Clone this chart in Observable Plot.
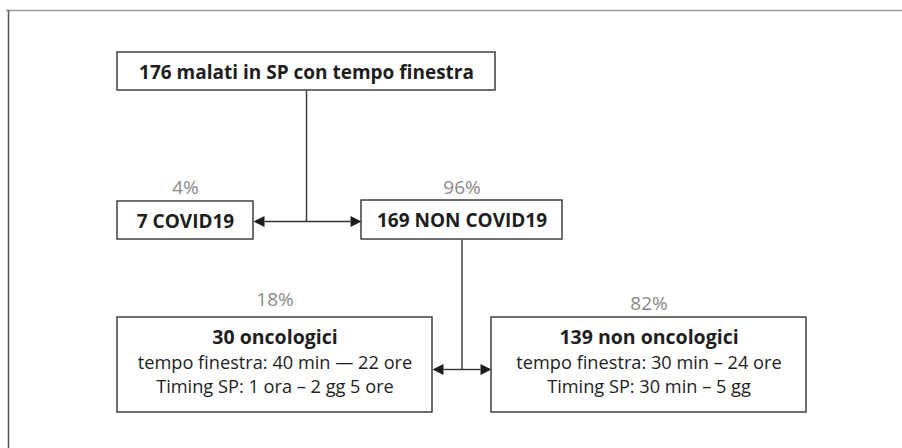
<!DOCTYPE html>
<html><head><meta charset="utf-8">
<script src="https://cdn.jsdelivr.net/npm/d3@7"></script>
<script src="https://cdn.jsdelivr.net/npm/@observablehq/plot@0.6"></script>
<style>
  html,body{margin:0;padding:0;background:#fff}
  #chart svg{display:block}
</style>
</head><body><div id="chart"></div>
<script>
// ---------- DATA ----------
const nodeIds      = ["totale", "covid", "noncovid", "onco", "nononco"];
const nodeCounts   = [176, 7, 169, 30, 139];
const nodeLabels   = ["malati in SP con tempo finestra", "COVID19", "NON COVID19", "oncologici", "non oncologici"];
const nodeParents  = [null, "totale", "totale", "noncovid", "noncovid"];
const percentValues = [null, 4, 96, 18, 82];
const tempoFinestra = [null, null, null, "40 min \u2014 22 ore", "30 min \u2013 24 ore"];
const timingSP      = [null, null, null, "1 ora \u2013 2 gg 5 ore", "30 min \u2013 5 gg"];

// ---------- LAYOUT (picture coordinate system) ----------
const W = 902, H = 448;
const boxLayout = {
  totale:   {x1: 117, x2: 495, y1: 52,  y2: 90},
  covid:    {x1: 117, x2: 253, y1: 201, y2: 239},
  noncovid: {x1: 361, x2: 562, y1: 200, y2: 239},
  onco:     {x1: 117, x2: 432, y1: 317, y2: 412},
  nononco:  {x1: 491, x2: 806, y1: 317, y2: 412}
};
const junctionY = {totale: 221, noncovid: 369};
const pctBaseline = {covid: 193, noncovid: 193, onco: 305, nononco: 309};
const frame = {left: 8, top: 10};
const arrowLen = 11, arrowHalf = 5.5;
const ink = "#1e1e1e", lineInk = "#333", grey = "#8a8a8a";
const font = "'Open Sans', 'Noto Sans', sans-serif";

// ---------- BUILD ----------
const nodes = nodeIds.map((id, i) => {
  const b = boxLayout[id];
  return {
    id, ...b, cx: (b.x1 + b.x2) / 2, cy: (b.y1 + b.y2) / 2,
    title: `${nodeCounts[i]} ${nodeLabels[i]}`,
    parent: nodeParents[i], pct: percentValues[i],
    tf: tempoFinestra[i], ts: timingSP[i]
  };
});

const stems = [], branches = [], heads = [];
for (const p of nodes) {
  const kids = nodes.filter(n => n.parent === p.id);
  if (!kids.length) continue;
  const jy = junctionY[p.id];
  stems.push({x1: p.cx, y1: p.y2, x2: p.cx, y2: jy});
  for (const k of kids) {
    const dir = k.cx < p.cx ? -1 : 1;
    const tip = dir < 0 ? k.x2 : k.x1;
    branches.push({x1: p.cx, y1: jy, x2: tip - dir * arrowLen, y2: jy});
    heads.push({id: k.id, x: tip, y: jy});
    heads.push({id: k.id, x: tip - dir * arrowLen, y: jy - arrowHalf});
    heads.push({id: k.id, x: tip - dir * arrowLen, y: jy + arrowHalf});
  }
}

const simple = nodes.filter(n => !n.tf);
const detail = nodes.filter(n => n.tf);
const pcts = nodes.filter(n => n.pct != null).map(n => ({x: n.cx, y: pctBaseline[n.id], text: `${n.pct}%`}));

const chart = Plot.plot({
  width: W, height: H, margin: 0,
  x: {domain: [0, W], range: [0, W], axis: null},
  y: {domain: [0, H], range: [0, H], axis: null},
  style: {fontFamily: font, background: "#fff"},
  marks: [
    Plot.ruleY([frame.top], {x1: frame.left - 2, x2: W, stroke: "#9a9a9a", strokeWidth: 1.5}),
    Plot.ruleX([frame.left], {y1: frame.top, y2: H, stroke: "#555", strokeWidth: 1.5}),
    Plot.link(stems, {x1: "x1", y1: "y1", x2: "x2", y2: "y2", stroke: lineInk, strokeWidth: 1.4}),
    Plot.link(branches, {x1: "x1", y1: "y1", x2: "x2", y2: "y2", stroke: lineInk, strokeWidth: 1.4}),
    Plot.line(heads, {x: "x", y: "y", z: "id", fill: ink, stroke: "none", curve: "linear-closed"}),
    Plot.rect(nodes, {x1: "x1", x2: "x2", y1: "y1", y2: "y2", fill: "white", stroke: lineInk, strokeWidth: 1.4}),
    Plot.text(simple, {x: "cx", y: n => n.cy + 7, text: "title", fontWeight: "bold", fontSize: 19, fill: ink, lineAnchor: "bottom"}),
    Plot.text(detail, {x: "cx", y: n => n.y1 + 26, text: "title", fontWeight: "bold", fontSize: 19.5, fill: ink, lineAnchor: "bottom"}),
    Plot.text(detail, {x: "cx", y: n => n.y1 + 51, text: n => `tempo finestra: ${n.tf}`, fontSize: 18.2, fill: ink, lineAnchor: "bottom"}),
    Plot.text(detail, {x: "cx", y: n => n.y1 + 75, text: n => `Timing SP: ${n.ts}`, fontSize: 18.2, fill: ink, lineAnchor: "bottom"}),
    Plot.text(pcts, {x: "x", y: "y", text: "text", fontSize: 19, fill: grey, lineAnchor: "bottom"})
  ]
});
document.getElementById("chart").appendChild(chart);
</script>
</body></html>
